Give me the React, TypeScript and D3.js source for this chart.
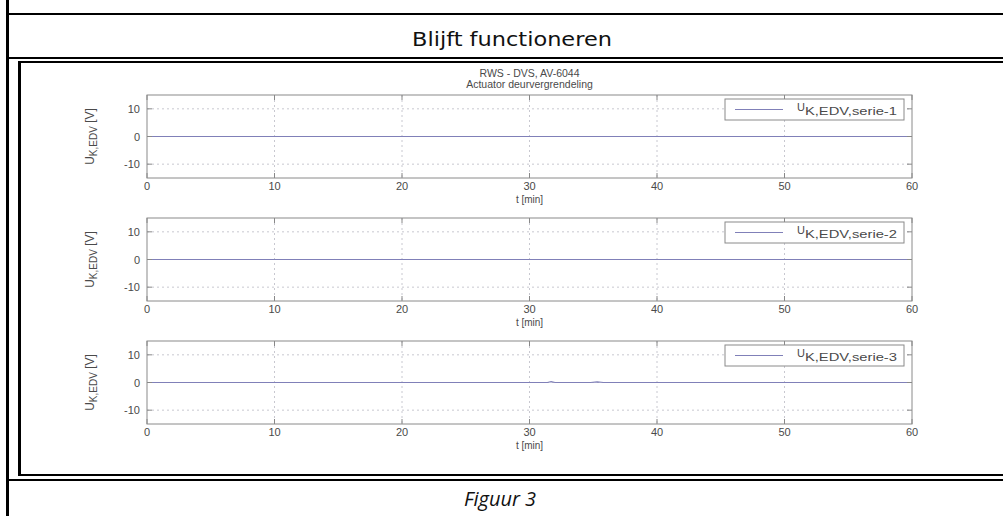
import React from "react";
import * as d3 from "d3";

// ---- data ----
const xTicks = [0, 10, 20, 30, 40, 50, 60];
const yTicks = [-10, 0, 10];
const timeMin = [0, 31.4, 31.7, 32.0, 34.8, 35.3, 35.8, 60];
const serie1 = [0, 0, 0, 0, 0, 0, 0, 0];
const serie2 = [0, 0, 0, 0, 0, 0, 0, 0];
const serie3 = [0, 0, 0.3, 0, 0, 0.25, 0, 0];
const seriesNames = ["K,EDV,serie-1", "K,EDV,serie-2", "K,EDV,serie-3"];
const seriesValues = [serie1, serie2, serie3];
const titleLines = ["RWS - DVS, AV-6044", "Actuator deurvergrendeling"];
const headerText = "Blijft functioneren";
const captionText = "Figuur 3";

const W = 1003;
const H = 516;
const xLeft = 147;
const xRight = 912;
const panels = [
  { top: 95, bottom: 178 },
  { top: 218, bottom: 301 },
  { top: 341, bottom: 424 },
];

const chartFont = "'Liberation Sans', Arial, Helvetica, sans-serif";
const textCol = "#4a4a4a";

function Panel({ idx }: { idx: number }) {
  const p = panels[idx];
  const x = d3.scaleLinear().domain([0, 60]).range([xLeft, xRight]);
  const y = d3.scaleLinear().domain([-15, 15]).range([p.bottom, p.top]);
  const vals = seriesValues[idx];
  const line = d3
    .line<number>()
    .x((_, i) => x(timeMin[i]))
    .y((d) => y(d));
  const midY = (p.top + p.bottom) / 2;
  const legX0 = 725;
  const legX1 = 904;
  const legY0 = p.top + 4;
  const legY1 = p.top + 25;
  const legMid = (legY0 + legY1) / 2;
  return (
    <g>
      <rect x={xLeft} y={p.top} width={xRight - xLeft} height={p.bottom - p.top} fill="#fff" />
      {xTicks.slice(1, -1).map((t) => (
        <line key={"gx" + t} x1={x(t)} x2={x(t)} y1={p.top} y2={p.bottom} stroke="#c8c8d0" strokeWidth={1} strokeDasharray="2,3" />
      ))}
      {yTicks.map((t) => (
        <line key={"gy" + t} x1={xLeft} x2={xRight} y1={y(t)} y2={y(t)} stroke="#c8c8d0" strokeWidth={1} strokeDasharray="2,3" />
      ))}
      <path d={line(vals) || ""} fill="none" stroke="#8080b8" strokeWidth={1.2} />
      {xTicks.map((t) => (
        <g key={"tx" + t}>
          <line x1={x(t)} x2={x(t)} y1={p.bottom} y2={p.bottom - 5} stroke="#888" />
          <line x1={x(t)} x2={x(t)} y1={p.top} y2={p.top + 5} stroke="#888" />
          <text x={x(t)} y={p.bottom + 12} textAnchor="middle" fontSize={11} fontFamily={chartFont} fill={textCol}>
            {t}
          </text>
        </g>
      ))}
      {yTicks.map((t) => (
        <g key={"ty" + t}>
          <line x1={xLeft} x2={xLeft + 5} y1={y(t)} y2={y(t)} stroke="#888" />
          <line x1={xRight} x2={xRight - 5} y1={y(t)} y2={y(t)} stroke="#888" />
          <text x={xLeft - 7} y={y(t) + 4} textAnchor="end" fontSize={11} fontFamily={chartFont} fill={textCol}>
            {t}
          </text>
        </g>
      ))}
      <rect x={xLeft} y={p.top} width={xRight - xLeft} height={p.bottom - p.top} fill="none" stroke="#8a8a8a" strokeWidth={1} />
      <text x={(xLeft + xRight) / 2} y={p.bottom + 25} textAnchor="middle" fontSize={10} fontFamily={chartFont} fill={textCol}>
        t [min]
      </text>
      <text transform={`translate(94,${midY}) rotate(-90)`} textAnchor="middle" fontSize={12} fontFamily={chartFont} fill={textCol}>
        U
        <tspan fontSize={10} dy={3}>K,EDV</tspan>
        <tspan dy={-3}> [V]</tspan>
      </text>
      <rect x={legX0} y={legY0} width={legX1 - legX0} height={legY1 - legY0} fill="#fff" stroke="#8a8a8a" strokeWidth={1} />
      <line x1={735} x2={783} y1={legMid} y2={legMid} stroke="#8080b8" strokeWidth={1} />
      <text x={797} y={legMid + 1} fontSize={11} fontFamily={chartFont} fill={textCol}>
        U
        <tspan fontSize={10} dy={4} textLength={92} lengthAdjust="spacingAndGlyphs">{seriesNames[idx]}</tspan>
      </text>
    </g>
  );
}

export default function App() {
  return (
    <svg width={W} height={H} style={{ position: "absolute", left: 0, top: 0, background: "#fff" }}>
      <rect x={0} y={0} width={W} height={H} fill="#fff" />
      <rect x={6} y={0} width={3} height={H} fill="#000" />
      <rect x={6} y={13} width={W - 6} height={2} fill="#000" />
      <rect x={6} y={57} width={W - 6} height={2} fill="#000" />
      <rect x={18} y={61} width={W - 18} height={2} fill="#000" />
      <rect x={18} y={61} width={3} height={415} fill="#000" />
      <rect x={18} y={474} width={W - 18} height={2} fill="#000" />
      <rect x={6} y={479} width={W - 6} height={2} fill="#000" />
      <text x={512} y={46} textAnchor="middle" fontSize={19} fontFamily="'DejaVu Sans', sans-serif" fill="#111" textLength={200} lengthAdjust="spacingAndGlyphs">
        {headerText}
      </text>
      <text x={(xLeft + xRight) / 2} y={77} textAnchor="middle" fontSize={10.5} fontFamily={chartFont} fill={textCol}>
        {titleLines[0]}
      </text>
      <text x={(xLeft + xRight) / 2} y={88} textAnchor="middle" fontSize={10.5} fontFamily={chartFont} fill={textCol}>
        {titleLines[1]}
      </text>
      {panels.map((_, i) => (
        <Panel key={i} idx={i} />
      ))}
      <text x={500} y={506} textAnchor="middle" fontSize={20} fontStyle="italic" fontFamily="'Open Sans', sans-serif" fill="#111">
        {captionText}
      </text>
    </svg>
  );
}
